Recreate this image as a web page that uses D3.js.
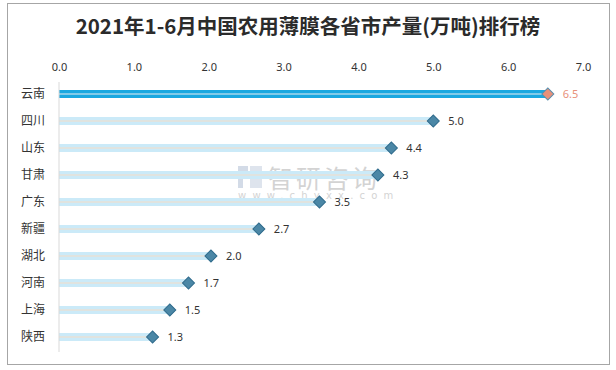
<!DOCTYPE html>
<html>
<head>
<meta charset="utf-8">
<script src="https://cdn.jsdelivr.net/npm/d3@7"></script>
<style>
  body { margin: 0; background: #fff; }
  svg { font-family: "Noto Sans CJK SC", "Noto Sans", sans-serif; }
</style>
</head>
<body>
<svg></svg>
<script>
const provinces = ["云南", "四川", "山东", "甘肃", "广东", "新疆", "湖北", "河南", "上海", "陕西"];
const output = [6.53, 5.0, 4.44, 4.26, 3.48, 2.67, 2.03, 1.73, 1.48, 1.25];
const labels = ["6.5", "5.0", "4.4", "4.3", "3.5", "2.7", "2.0", "1.7", "1.5", "1.3"];
const ticks = [0, 1, 2, 3, 4, 5, 6, 7];

const data = provinces.map((p, i) => ({ name: p, value: output[i], label: labels[i] }));

const svgWidth = 616, svgHeight = 370;
const svg = d3.select("svg")
  .attr("width", svgWidth)
  .attr("height", svgHeight);

// frame
svg.append("rect")
  .attr("x", 7.5).attr("y", 3.5)
  .attr("width", 602).attr("height", 361)
  .attr("fill", "none")
  .attr("stroke", "#a6a6a6");

svg.append("text")
  .attr("x", 308).attr("y", 34)
  .attr("text-anchor", "middle")
  .attr("font-size", 20.5)
  .attr("font-weight", "bold")
  .attr("fill", "#2b2b2b")
  .text("2021年1-6月中国农用薄膜各省市产量(万吨)排行榜");

const x = d3.scaleLinear().domain([0, 7]).range([59, 583]);
const y = d3.scalePoint().domain(provinces).range([94, 337]);

// top axis labels
const axis = svg.append("g")
  .attr("transform", "translate(0,71)")
  .call(d3.axisTop(x).tickValues(ticks).tickFormat(d3.format(".1f")).tickSize(0).tickPadding(0));
axis.select(".domain").remove();
axis.selectAll("text")
  .attr("font-size", 11)
  .attr("fill", "#333")
  .attr("font-family", "\"Noto Sans\", sans-serif");

// watermark
const wm = svg.append("g").attr("opacity", 0.45);
wm.append("rect").attr("x", 238).attr("y", 166).attr("width", 10).attr("height", 6).attr("fill", "#9fb0cc");
wm.append("rect").attr("x", 238).attr("y", 174).attr("width", 5).attr("height", 14).attr("fill", "#9fb0cc");
wm.append("rect").attr("x", 250).attr("y", 166).attr("width", 12).attr("height", 22).attr("fill", "#b8c4d8");
wm.append("text")
  .attr("x", 268).attr("y", 188)
  .attr("font-size", 25)
  .attr("fill", "#a0a0a0")
  .attr("letter-spacing", 3)
  .text("智研咨询");
wm.append("text")
  .attr("x", 238).attr("y", 199)
  .attr("font-size", 10)
  .attr("fill", "#a0a0a0")
  .attr("letter-spacing", 6.2)
  .attr("font-family", "\"DejaVu Sans\", sans-serif")
  .text("www.chyxx.com");

// bars
const rows = svg.append("g").selectAll("g")
  .data(data)
  .join("g");

rows.append("rect")
  .attr("x", x(0))
  .attr("y", d => y(d.name) - 4)
  .attr("width", d => x(d.value) - x(0))
  .attr("height", 8)
  .attr("fill", (d, i) => i === 0 ? "#1aa8e0" : "#cbeaf8");

rows.append("line")
  .attr("x1", x(0))
  .attr("x2", d => x(d.value))
  .attr("y1", d => y(d.name))
  .attr("y2", d => y(d.name))
  .attr("stroke", (d, i) => i === 0 ? "#e8eef2" : "#f5dcc5")
  .attr("stroke-width", 1.2);

// vertical axis line
svg.append("line")
  .attr("x1", x(0)).attr("x2", x(0))
  .attr("y1", 82).attr("y2", 352)
  .attr("stroke", "#d9d9d9");

// category labels
svg.append("g").selectAll("text")
  .data(data)
  .join("text")
  .attr("x", 33)
  .attr("y", d => y(d.name) + 4)
  .attr("text-anchor", "middle")
  .attr("font-size", 12)
  .attr("fill", "#333")
  .text(d => d.name);

// diamonds
rows.append("path")
  .attr("d", d3.symbol(d3.symbolSquare, 72))
  .attr("transform", d => `translate(${x(d.value)},${y(d.name)}) rotate(45)`)
  .attr("fill", (d, i) => i === 0 ? "#e8917a" : "#4b87a6")
  .attr("stroke", (d, i) => i === 0 ? "#5a8fad" : "#2f6b8c")
  .attr("stroke-width", 1);

rows.append("text")
  .attr("x", d => x(d.value) + 15)
  .attr("y", d => y(d.name) + 4)
  .attr("font-size", 11)
  .attr("font-family", "\"Noto Sans\", sans-serif")
  .attr("fill", (d, i) => i === 0 ? "#e8917a" : "#333")
  .text(d => d.label);
</script>
</body>
</html>
